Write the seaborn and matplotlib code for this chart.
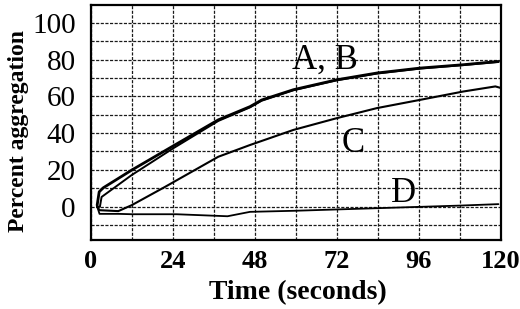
import matplotlib
matplotlib.use("Agg")
import matplotlib.pyplot as plt
import seaborn as sns
import pandas as pd

# Data
t_A = [1.8, 2.4, 3.6, 11.9, 24.1, 37.3, 46.6, 50.0, 59.3, 72.0, 83.8, 96.5, 109.0, 119.4]
v_A = [0.7, 8.0, 10.2, 19.8, 33.0, 47.2, 54.4, 58.0, 63.6, 69.0, 72.7, 75.4, 77.2, 79.0]

t_B = [1.8, 2.6, 3.1, 11.9, 24.1, 37.3, 46.6, 50.0, 59.3, 72.0, 83.8, 96.5, 109.0, 119.4]
v_B = [0.0, -0.2, 5.2, 17.1, 31.7, 46.6, 54.0, 57.6, 63.3, 68.7, 72.4, 75.1, 77.0, 78.7]

t_C = [1.8, 2.5, 8.0, 11.9, 21.7, 37.3, 46.6, 59.3, 72.0, 83.8, 96.5, 109.0, 118.5, 120.0]
v_C = [0.0, -2.0, -2.5, 0.7, 10.7, 27.1, 33.5, 41.7, 48.1, 53.6, 58.1, 62.6, 65.4, 64.6]

t_D = [1.8, 2.5, 8.0, 12.0, 25.0, 40.0, 46.6, 60.0, 72.0, 84.0, 96.0, 108.0, 119.4]
v_D = [0.0, -4.0, -4.0, -4.2, -4.2, -5.3, -2.9, -2.3, -1.6, -0.9, -0.2, 0.5, 1.3]

x_ticks = [0, 24, 48, 72, 96, 120]
y_ticks = [0, 20, 40, 60, 80, 100]
curve_labels = ["A, B", "C", "D"]
label_pos_t = [68.6, 76.9, 91.6]
label_pos_v = [79.6, 34.4, 7.1]

frames = []
for name, t, v in [("A", t_A, v_A), ("B", t_B, v_B), ("C", t_C, v_C), ("D", t_D, v_D)]:
    frames.append(pd.DataFrame({"t": t, "v": v, "series": name}))
df = pd.concat(frames, ignore_index=True)

sns.set_theme(style="white")
plt.rcParams["font.family"] = ["Liberation Serif", "DejaVu Serif"]
plt.rcParams["text.color"] = "black"
plt.rcParams["axes.labelcolor"] = "black"
plt.rcParams["xtick.color"] = "black"
plt.rcParams["ytick.color"] = "black"

fig = plt.figure(figsize=(5.2, 3.09), dpi=100)
ax = fig.add_axes([0.175, 0.2217, 0.9625 - 0.175, 0.9854 - 0.2217])

widths = {"A": 2.0, "B": 1.4, "C": 1.5, "D": 1.3}
for name in ["A", "B", "C", "D"]:
    sns.lineplot(data=df[df["series"] == name], x="t", y="v", ax=ax,
                 color="black", linewidth=widths[name], estimator=None, sort=False)

ax.set_xlim(0, 120)
ax.set_ylim(-18.5, 110)
ax.set_xticks(x_ticks)
ax.set_xticks([12, 36, 60, 84, 108], minor=True)
ax.set_yticks(y_ticks)
ax.set_yticks([-10, 10, 30, 50, 70, 90], minor=True)
ax.set_xticklabels([str(x) for x in x_ticks], fontweight="bold", fontsize=19)
ax.set_yticklabels([str(y) for y in y_ticks], fontsize=21)
ax.tick_params(axis="both", which="both", length=0, labelcolor="black")
ax.tick_params(axis="x", pad=7)
ax.tick_params(axis="y", pad=11)

ax.grid(True, which="both", color="#1a1a1a", linestyle=(0, (2.5, 1.2)), linewidth=0.9)
ax.set_axisbelow(True)
for s in ax.spines.values():
    s.set_color("black")
    s.set_linewidth(1.6)

ax.set_xlabel("Time (seconds)", fontweight="bold", fontsize=20, va="center", color="black")
ax.set_ylabel("Percent aggregation", fontweight="bold", fontsize=17, va="center", color="black")
ax.xaxis.set_label_coords(0.505, -0.222)
ax.yaxis.set_label_coords(-0.178, 0.465)

for lab, tx, ty in zip(curve_labels, label_pos_t, label_pos_v):
    ax.text(tx, ty, lab, fontsize=25, ha="center", va="center", color="black")

fig.savefig("out.png", dpi=100)
